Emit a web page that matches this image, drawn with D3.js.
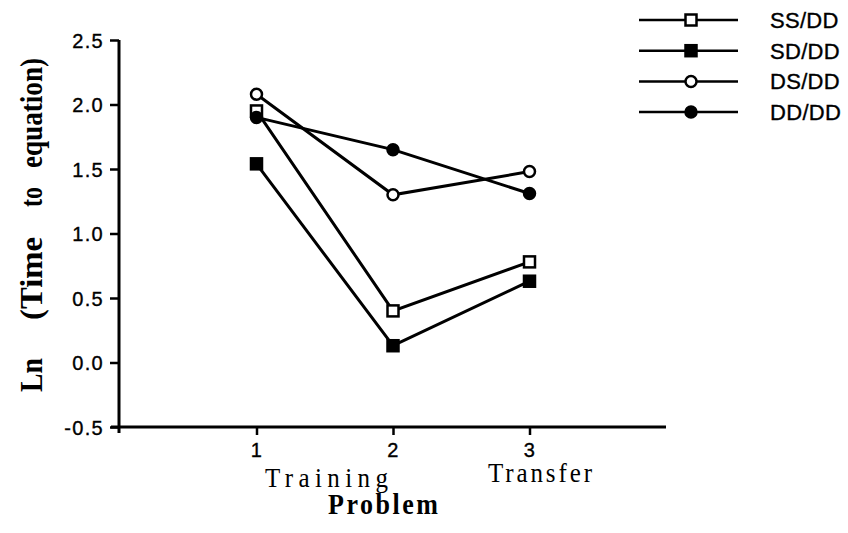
<!DOCTYPE html>
<html>
<head>
<meta charset="utf-8">
<script src="https://cdn.jsdelivr.net/npm/d3@7"></script>
<style>
  body { margin: 0; background: #fff; }
  svg { display: block; }
  .tick text { font-family: "Liberation Sans", Arial, sans-serif; font-size: 20px; fill: #000; letter-spacing: 1.3px; stroke: #000; stroke-width: 0.35px; }
  .domain { stroke-width: 3px; }
  .tick line { stroke-width: 2.5px; }
  .serif { font-family: "Liberation Serif", "Times New Roman", serif; fill: #000; }
</style>
</head>
<body>
<svg id="chart" width="848" height="533"></svg>
<script>
// Problem positions on the x axis
const problems = [1, 2, 3];
// Mean Ln(time to equation) per condition
const ssdd = [1.95, 0.40, 0.78];
const sddd = [1.54, 0.13, 0.63];
const dsdd = [2.08, 1.30, 1.48];
const dddd = [1.90, 1.65, 1.31];
const seriesNames = ["SS/DD", "SD/DD", "DS/DD", "DD/DD"];
const yTicks = [-0.5, 0.0, 0.5, 1.0, 1.5, 2.0, 2.5];
const yTitleWords = ["Ln", "(Time", "to", "equation)"];

const series = [
  { name: seriesNames[0], values: ssdd, shape: "square", fill: "#fff" },
  { name: seriesNames[1], values: sddd, shape: "square", fill: "#000" },
  { name: seriesNames[2], values: dsdd, shape: "circle", fill: "#fff" },
  { name: seriesNames[3], values: dddd, shape: "circle", fill: "#000" }
];

const svg = d3.select("#chart");
const x = d3.scaleLinear().domain([0, 4]).range([120, 666]);
const y = d3.scaleLinear().domain([-0.5, 2.5]).range([427, 40]);

// plain hyphen for negatives, one decimal
const fmt = d => d.toFixed(1);

// y axis
const yAxis = d3.axisLeft(y).tickValues(yTicks).tickFormat(fmt).tickSize(9).tickPadding(6);
const gy = svg.append("g").attr("transform", `translate(${x(0) - 1},0)`).call(yAxis);
gy.select(".domain").attr("d", `M0,${y(2.5)}V${y(-0.5) + 6}`);
gy.selectAll(".tick text").attr("dy", "0.36em");

// x axis
const xAxis = d3.axisBottom(x).tickValues(problems).tickFormat(d3.format("d")).tickSize(8).tickPadding(8);
const gx = svg.append("g").attr("transform", `translate(0,${y(-0.5)})`).call(xAxis);
gx.select(".domain").attr("d", `M${x(0) - 9},0H${x(4)}`);

// y title: tall bold serif, one word per text, laid out along the axis
const yWordSpan = [[358, 392], [237, 320], [187, 207], [58, 168]];
yTitleWords.forEach((w, i) => {
  const [a, b] = yWordSpan[i];
  svg.append("text").attr("class", "serif")
    .attr("transform", `translate(42,${(a + b) / 2}) rotate(-90) scale(1,1.55)`)
    .attr("text-anchor", "middle")
    .attr("font-weight", "bold").attr("font-size", 20)
    .attr("textLength", b - a).attr("lengthAdjust", "spacingAndGlyphs")
    .text(w);
});

// x titles
function xTitle(label, x0, x1, base, bold, size, sy) {
  svg.append("text").attr("class", "serif")
    .attr("transform", `translate(${x0},${base}) scale(1,${sy})`)
    .attr("font-size", size).attr("font-weight", bold ? "bold" : "normal")
    .attr("textLength", x1 - x0).attr("lengthAdjust", "spacing")
    .text(label);
}
xTitle("Training", 265, 388, 487, false, 25, 1.05);
xTitle("Transfer", 488, 592, 482, false, 25, 1.05);
xTitle("Problem", 328, 438, 514, true, 26, 1.1);

// marker drawing
function marker(g, s, cx, cy) {
  if (s.shape === "square") {
    g.append("rect").attr("x", cx - 5.5).attr("y", cy - 5.5).attr("width", 11).attr("height", 11)
      .attr("fill", s.fill).attr("stroke", "#000").attr("stroke-width", 2.5);
  } else {
    g.append("circle").attr("cx", cx).attr("cy", cy).attr("r", 5.5)
      .attr("fill", s.fill).attr("stroke", "#000").attr("stroke-width", 2.5);
  }
}

const line = d3.line().x((d, i) => x(problems[i])).y(d => y(d));
const plot = svg.append("g");
series.forEach(s => {
  plot.append("path").attr("d", line(s.values)).attr("fill", "none")
    .attr("stroke", "#000").attr("stroke-width", 3);
});
series.forEach(s => {
  const g = plot.append("g");
  s.values.forEach((v, i) => marker(g, s, x(problems[i]), y(v)));
});

// legend
const legend = svg.append("g");
series.forEach((s, i) => {
  const ly = 20 + i * 30.7;
  const g = legend.append("g");
  g.append("line").attr("x1", 639).attr("x2", 738).attr("y1", ly).attr("y2", ly)
    .attr("stroke", "#000").attr("stroke-width", 2.5);
  marker(g, s, 691, ly);
  g.append("text").attr("x", 770).attr("y", ly + 8)
    .attr("font-family", '"Liberation Sans", Arial, sans-serif').attr("font-size", 22)
    .attr("letter-spacing", 0.3).attr("stroke", "#000").attr("stroke-width", 0.35)
    .text(s.name);
});
</script>
</body>
</html>
